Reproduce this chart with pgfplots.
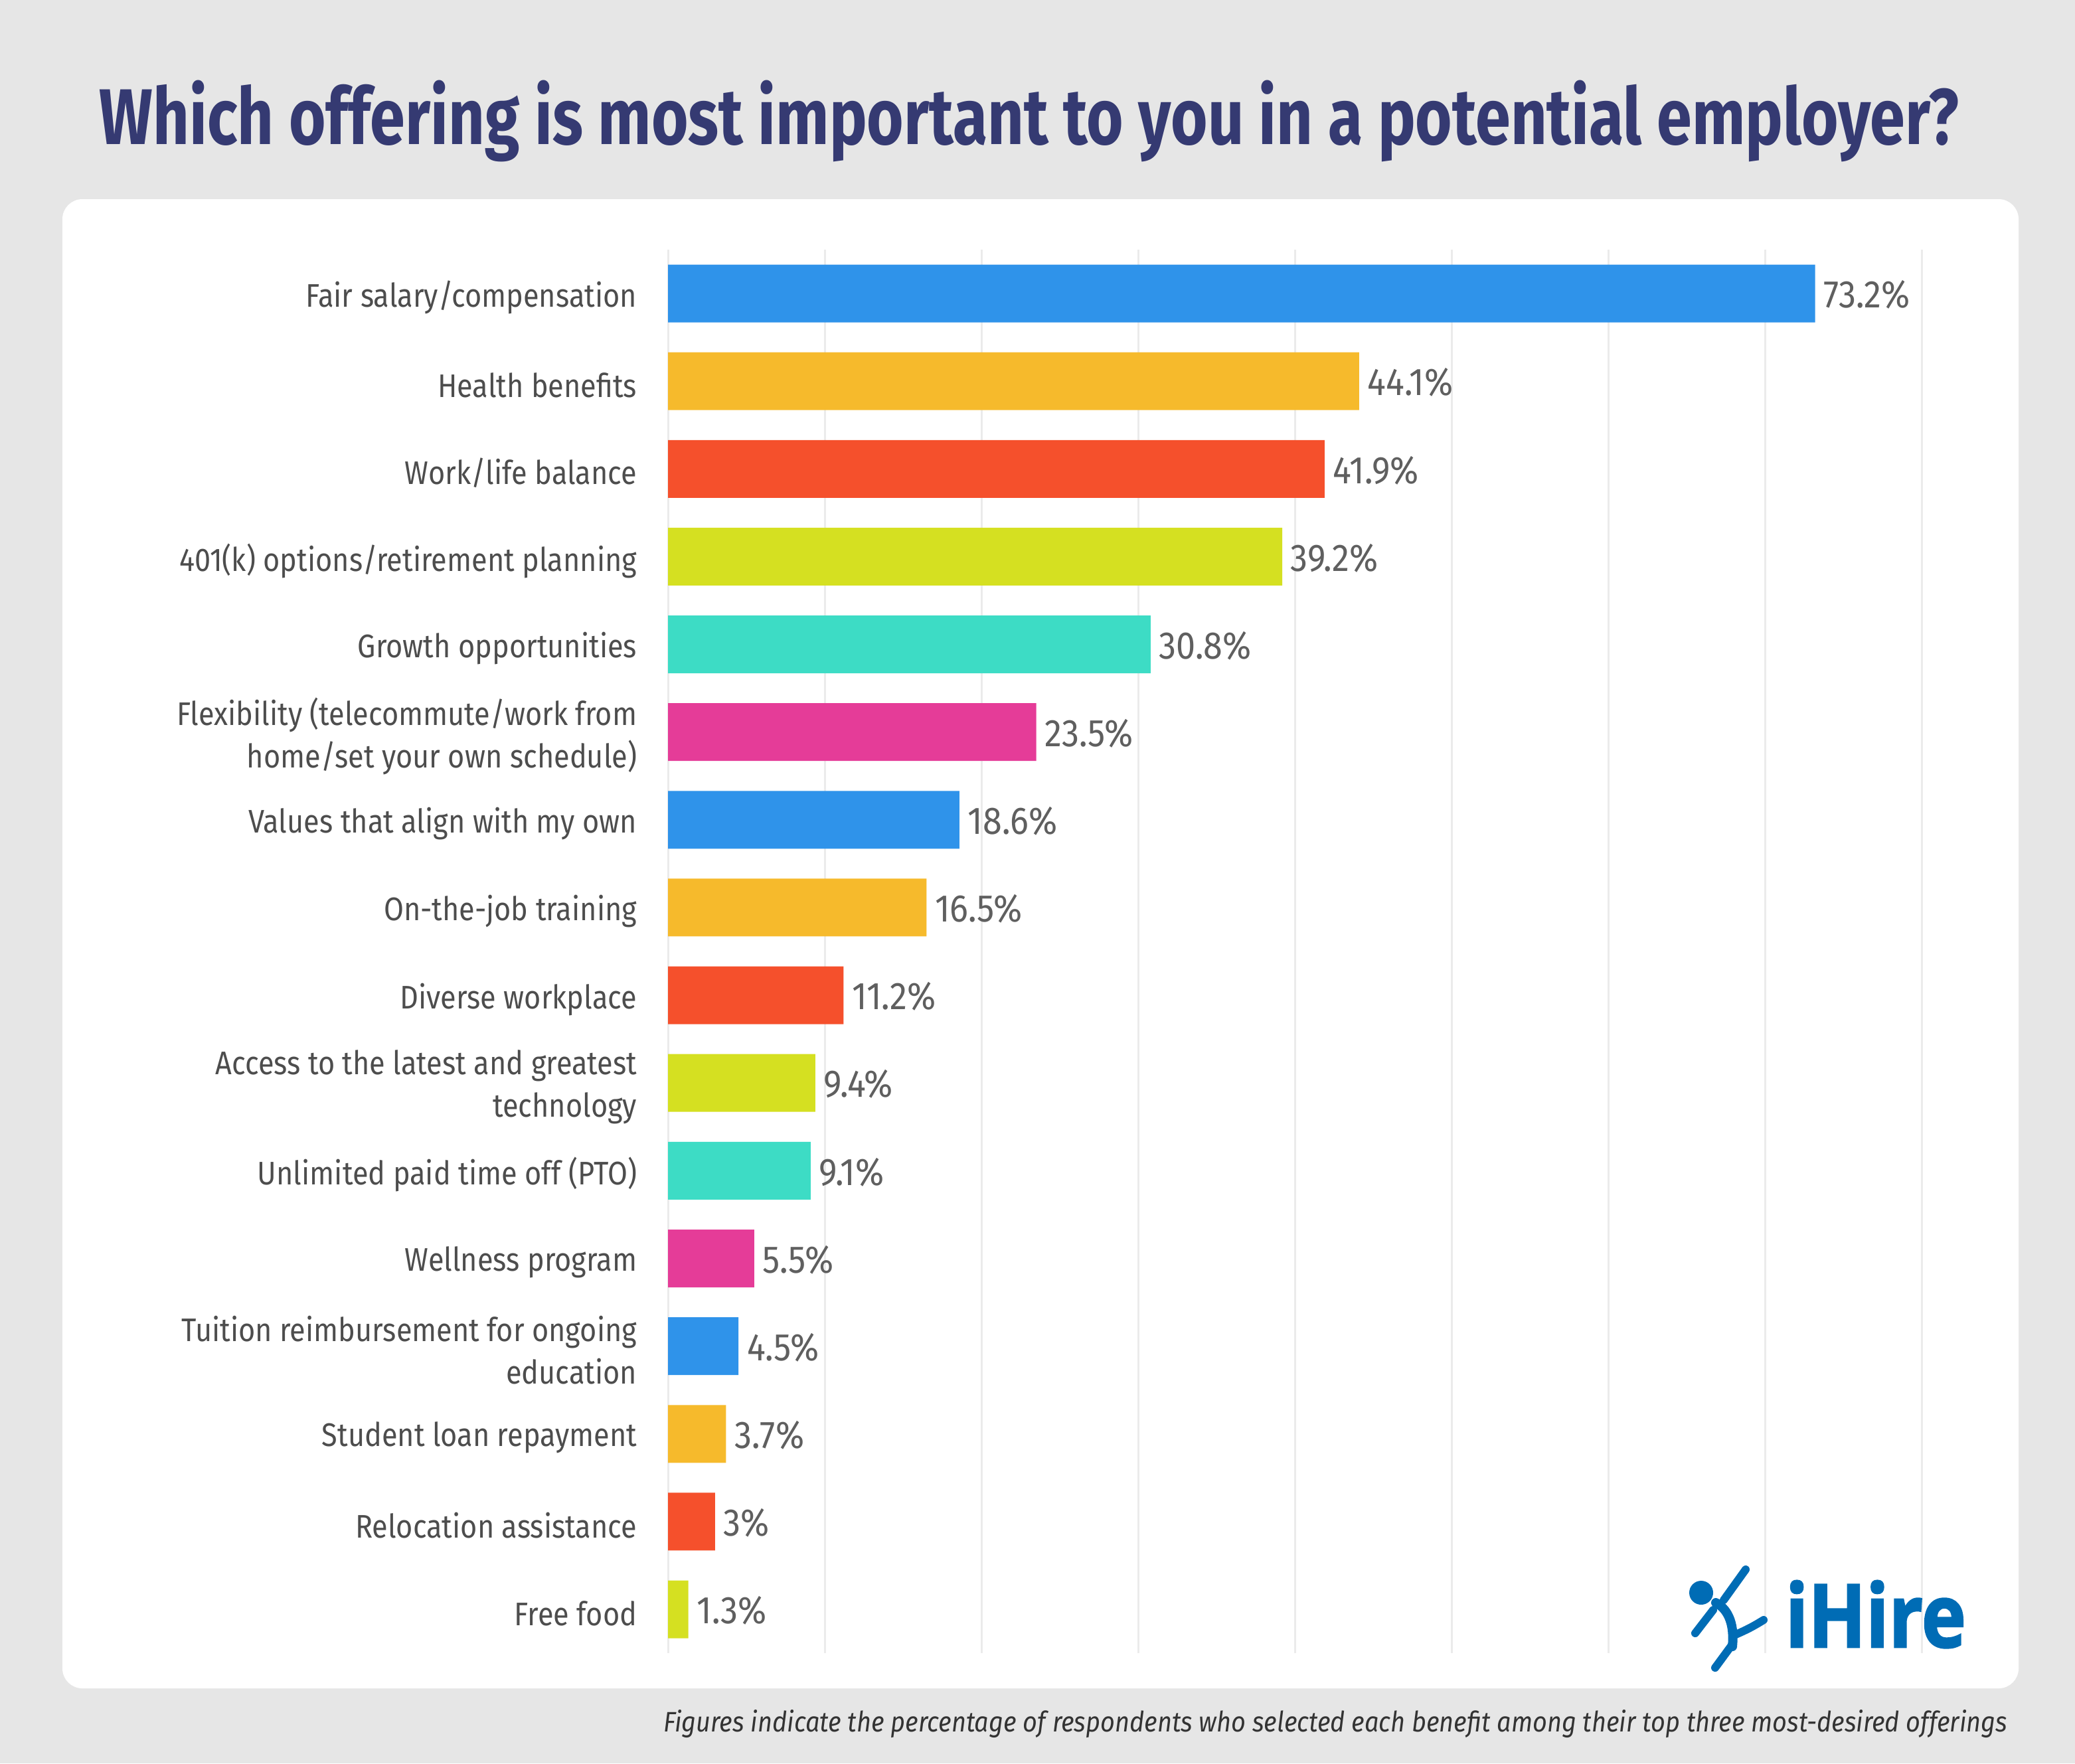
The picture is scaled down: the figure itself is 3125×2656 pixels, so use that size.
\documentclass[border=0pt]{standalone}
\usepackage{pgfplots}
\pgfplotsset{compat=1.18}
\usepackage{fontspec}
\usepackage{graphicx}
\setmainfont{Fira Sans}
\newfontfamily\labfont{Fira Sans}[FakeStretch=0.88]
\newfontfamily\valfont{Fira Sans}[FakeStretch=0.9]
\newfontfamily\titlefont{Fira Sans}
\newfontfamily\logofont{Open Sans}[FakeBold=2]
\definecolor{bg}{HTML}{E6E6E6}
\definecolor{navy}{HTML}{353A72}
\definecolor{cblue}{HTML}{2F93EA}
\definecolor{corange}{HTML}{F6BA2C}
\definecolor{cred}{HTML}{F5502C}
\definecolor{clime}{HTML}{D5E021}
\definecolor{cteal}{HTML}{3DDCC5}
\definecolor{cpink}{HTML}{E53C98}
\definecolor{labgray}{HTML}{4D4D4D}
\definecolor{valgray}{HTML}{5F5F5F}
\definecolor{footgray}{HTML}{333333}
\definecolor{gridc}{HTML}{EBEBEB}
\definecolor{logoblue}{HTML}{006CB5}
\begin{document}
\begin{tikzpicture}[x=0.25pt,y=-0.25pt]
\fill[bg] (0,0) rectangle (3125,2656);
\fill[white, rounded corners=7.5pt] (94,300) rectangle (3040,2543);
\coordinate (axorigin) at (1006,2490);
\node[anchor=base, text=navy, inner sep=0pt] at (1550,217) {\resizebox{700pt}{\height}{\titlefont\bfseries\fontsize{29.75}{30}\selectfont Which offering is most important to you in a potential employer?}};
\begin{axis}[at={(axorigin)}, anchor=south west,
  width=472pt, height=528.5pt, scale only axis,
  xbar, bar width=21.75pt, bar shift=0pt,
  xmin=0, xmax=80, ymin=-0.5, ymax=15.5, y dir=reverse,
  axis line style={draw=none}, major tick length=0pt,
  xtick={0,10,...,80}, xticklabels={},
  xmajorgrids, major grid style={gridc, line width=0.75pt},
  ytick={0,...,15},
  yticklabels={{Fair salary/compensation},{Health benefits},{Work/life balance},{401(k) options/retirement planning},{Growth opportunities},{Flexibility (telecommute/work from\\home/set your own schedule)},{Values that align with my own},{On-the-job training},{Diverse workplace},{Access to the latest and greatest\\technology},{Unlimited paid time off (PTO)},{Wellness program},{Tuition reimbursement for ongoing\\education},{Student loan repayment},{Relocation assistance},{Free food}},
  yticklabel style={font=\labfont\fontsize{12.3}{16}\selectfont, text=labgray, align=right, inner sep=0pt, xshift=-11.5pt, yshift=-1.5pt},
  point meta=x,
  nodes near coords={\pgfmathprintnumber[fixed,precision=1,assume math mode=true]{\pgfplotspointmeta}\%},
  nodes near coords style={font=\valfont\fontsize{14.5}{16}\selectfont, text=valgray, anchor=west, inner sep=0pt, xshift=3pt, yshift=-0.5pt},
  every axis plot/.append style={draw=none},
]
\addplot[fill=cblue] coordinates {(73.2,0) (18.6,6) (4.5,12)};
\addplot[fill=corange] coordinates {(44.1,1) (16.5,7) (3.7,13)};
\addplot[fill=cred] coordinates {(41.9,2) (11.2,8) (3.0,14)};
\addplot[fill=clime] coordinates {(39.2,3) (9.4,9) (1.3,15)};
\addplot[fill=cteal] coordinates {(30.8,4) (9.1,10)};
\addplot[fill=cpink] coordinates {(23.5,5) (5.5,11)};
\end{axis}
% logo
\fill[logoblue] (2562,2399) circle (18);
\draw[logoblue, line width=3pt, line cap=round] (2596,2410) -- (2629,2364);
\draw[logoblue, line width=3.5pt, line cap=round] (2584,2414) .. controls (2605,2425) and (2612,2450) .. (2609,2480);
\draw[logoblue, line width=3pt, line cap=round] (2580,2425) -- (2553,2460);
\draw[logoblue, line width=3pt, line cap=round] (2608,2478) -- (2583,2512);
\draw[logoblue, line width=3pt, line cap=round] (2614,2462) .. controls (2630,2455) and (2640,2450) .. (2656,2440);
\node[anchor=base west, text=logoblue, inner sep=0pt] at (2688,2481) {\resizebox{68pt}{\height}{\logofont\bfseries\fontsize{33}{33}\selectfont iHire}};
\node[anchor=base east, text=footgray, inner sep=0pt] at (3024,2608) {\resizebox{506pt}{\height}{\fontsize{10.6}{12}\selectfont\itshape Figures indicate the percentage of respondents who selected each benefit among their top three most-desired offerings}};
\end{tikzpicture}
\end{document}
